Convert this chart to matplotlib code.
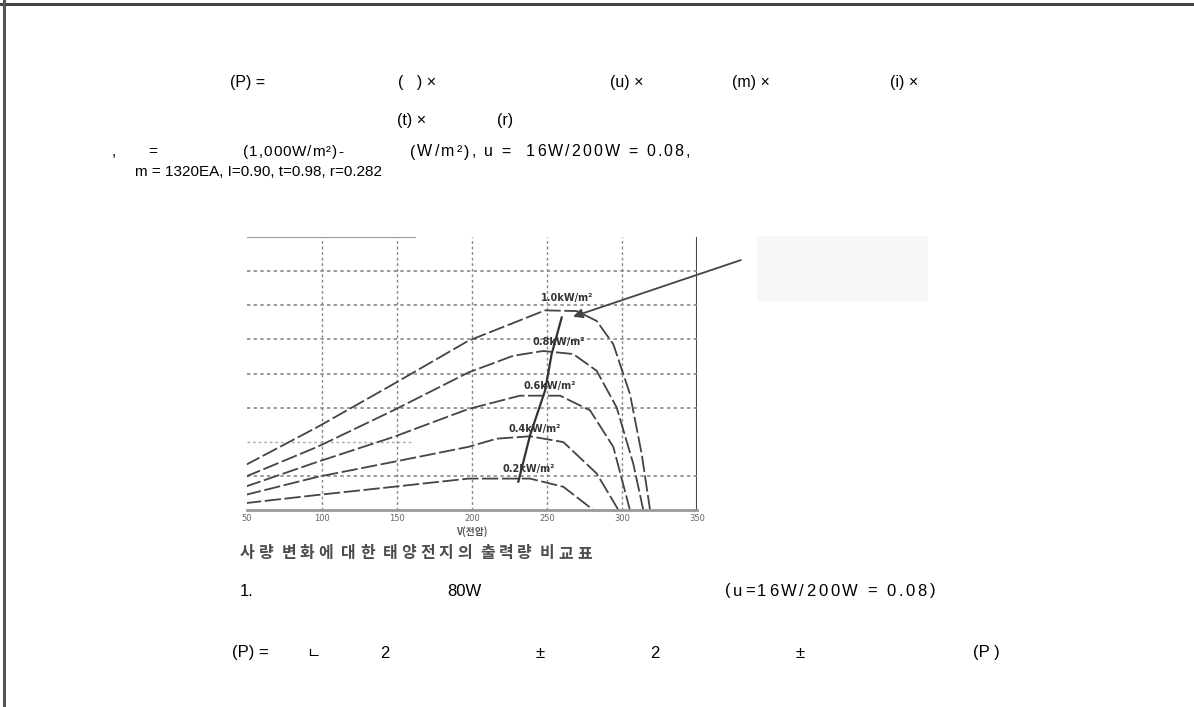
import numpy as np
import matplotlib
matplotlib.use("Agg")
import matplotlib.pyplot as plt
from matplotlib.lines import Line2D
from matplotlib.patches import Rectangle
from matplotlib.font_manager import FontProperties
from matplotlib.textpath import TextToPath

# irradiance curves (voltage, power in grid units)
levels = ["1.0kW/m²", "0.8kW/m²", "0.6kW/m²", "0.4kW/m²", "0.2kW/m²"]
v_10 = [48.7, 96.9, 147.6, 197.6, 248.7, 269.8, 283.1, 294.2, 305.3, 313.1, 318.7]
p_10 = [1.31, 2.43, 3.69, 4.96, 5.85, 5.83, 5.54, 4.86, 3.40, 1.65, 0.0]
v_08 = [48.7, 96.9, 147.6, 197.6, 227.5, 247.5, 267.5, 283.1, 296.4, 307.5, 314.2]
p_08 = [0.97, 1.85, 2.92, 4.03, 4.52, 4.66, 4.57, 4.08, 3.01, 1.36, 0.0]
v_06 = [48.7, 96.9, 147.6, 197.6, 232.0, 258.7, 278.7, 294.2, 305.3]
p_06 = [0.68, 1.41, 2.14, 2.96, 3.35, 3.35, 2.92, 1.85, 0.0]
v_04 = [48.7, 96.9, 147.6, 197.6, 216.4, 238.7, 260.9, 283.1, 297.6]
p_04 = [0.44, 0.97, 1.41, 1.85, 2.09, 2.16, 1.99, 1.07, 0.0]
v_02 = [48.7, 96.9, 147.6, 197.6, 238.7, 260.9, 280.9]
p_02 = [0.20, 0.44, 0.68, 0.92, 0.92, 0.68, 0.0]
curve_v = [v_10, v_08, v_06, v_04, v_02]
curve_p = [p_10, p_08, p_06, p_04, p_02]
label_v = [263.1, 257.8, 252.0, 242.0, 237.6]
label_p = [6.20, 4.91, 3.64, 2.38, 1.21]

# maximum power point locus
mpp_v = [230.9, 238.7, 248.7, 253.1, 259.8]
mpp_p = [0.83, 2.19, 3.50, 4.57, 5.64]
arrow_from = (381.0, 7.35)
arrow_to = (265.6, 5.64)

xticks = [50, 100, 150, 200, 250, 300, 350]
xlabels = ["50", "100", "150", "200", "250", "300", "350"]

W, H = 1194, 707
fig = plt.figure(figsize=(W / 100, H / 100), dpi=100)
fig.patch.set_facecolor("white")

def px(x, y):
    return x / W, 1 - y / H

# page border
fig.add_artist(Line2D([0, 1], [1 - 4 / H] * 2, color="#444444", lw=2.2))
fig.add_artist(Line2D([4 / W] * 2, [0, 1], color="#555555", lw=2.2))

sans = ["Liberation Sans", "DejaVu Sans"]
kr = ["Noto Sans CJK KR", "DejaVu Sans"]
t2p = TextToPath()

def t(x, y, s, fam=sans, size=11, **kw):
    fig.text(*px(x, y), s, family=fam, fontsize=size, ha="left", va="center",
             color="black", **kw)

def spread(x0, x1, y, s, fam=sans, size=11, **kw):
    # letter-spaced text running from x0 to x1 (pixels)
    prop = FontProperties(family=fam, size=size)
    width = lambda u: t2p.get_text_width_height_descent(u, prop, ismath=False)[0] * 100 / 72
    extra = ((x1 - x0) - width(s)) / max(len(s) - 1, 1)
    for i, ch in enumerate(s):
        if ch != " ":
            t(x0 + width(s[:i]) + extra * i, y, ch, fam, size, **kw)

t(230, 83, "(P) =", sans, 11.5)
t(398, 83, "(   ) ×", sans, 11.5)
t(610, 83, "(u) ×", sans, 11.5)
t(732, 83, "(m) ×", sans, 11.5)
t(890, 83, "(i) ×", sans, 11.5)
t(397, 120, "(t) ×", sans, 11.5)
t(497, 120, "(r)", sans, 11.5)

t(112, 152, ",")
t(148, 152, "=")
spread(243, 343, 152, "(1,000W/m²)-")
spread(410, 690, 152, "(W/m²), u =  16W/200W = 0.08,", size=11.5)
t(135, 172, "m = 1320EA, I=0.90, t=0.98, r=0.282")

spread(240, 592, 553, "사 량  변 화 에  대 한  태 양 전 지 의  출 력 량  비 교 표",
       kr, 11.5, alpha=0.7, fontweight="bold")

t(240, 591, "1.", sans, 12)
t(447, 591, "80W", sans, 12)
spread(725, 935, 591, "(u=16W/200W = 0.08)", sans, 12)

t(232, 653, "(P) =", sans, 12)
t(306, 653, "ㄴ", kr, 11)
t(380, 653, "2", sans, 12)
t(535, 653, "±", sans, 12)
t(650, 653, "2", sans, 12)
t(795, 653, "±", sans, 12)
t(973, 653, "(P )", sans, 12)

# faint box right of the chart
fig.add_artist(Rectangle(px(757, 302), 171 / W, 66 / H, facecolor="#f7f7f7",
                         edgecolor="none"))

# embedded chart
ax = fig.add_axes([247 / W, 1 - 510 / H, (697 - 247) / W, (510 - 237) / H])
ax.set_xlim(50, 350)
ax.set_ylim(0, 8)
for side in ["left", "top", "right"]:
    ax.spines[side].set_visible(False)
ax.spines["bottom"].set_color("#999999")
ax.spines["bottom"].set_linewidth(2)
ax.axvline(350, color="#444444", lw=1.5)
ax.plot([50, 162], [8, 8], color="#999999", lw=1.5)

for x in [100, 150, 200, 250, 300]:
    ax.plot([x, x], [0, 8], color="#888888", lw=1.0, ls=(0, (2, 2)))
for y in [1, 3, 4, 5, 6, 7]:
    ax.plot([50, 350], [y, y], color="#888888", lw=1.2, ls=(0, (2, 2)))
ax.plot([50, 160], [2, 2], color="#aaaaaa", lw=1.0, ls=(0, (2, 2)))

for v, p, name, lv, lp in zip(curve_v, curve_p, levels, label_v, label_p):
    ax.plot(v, p, color="#444444", lw=1.3, ls=(0, (9, 2)))
    ax.text(lv, lp, name, fontsize=7, fontweight="bold", color="#333333",
            ha="center", va="center")

ax.plot(mpp_v, mpp_p, color="#333333", lw=1.6)
ax.annotate("", xy=arrow_to, xytext=arrow_from, annotation_clip=False,
            arrowprops=dict(arrowstyle="-|>", color="#444444", lw=1.3,
                            mutation_scale=14))

ax.set_xticks(xticks)
ax.set_xticklabels(xlabels, fontsize=6, color="#666666")
ax.set_yticks([])
ax.tick_params(axis="x", length=0, pad=3)
ax.set_xlabel("V(전압)", fontsize=7, color="#555555", labelpad=2,
              family=kr, fontweight="bold")

fig.savefig("out.png", dpi=100, facecolor="white")
